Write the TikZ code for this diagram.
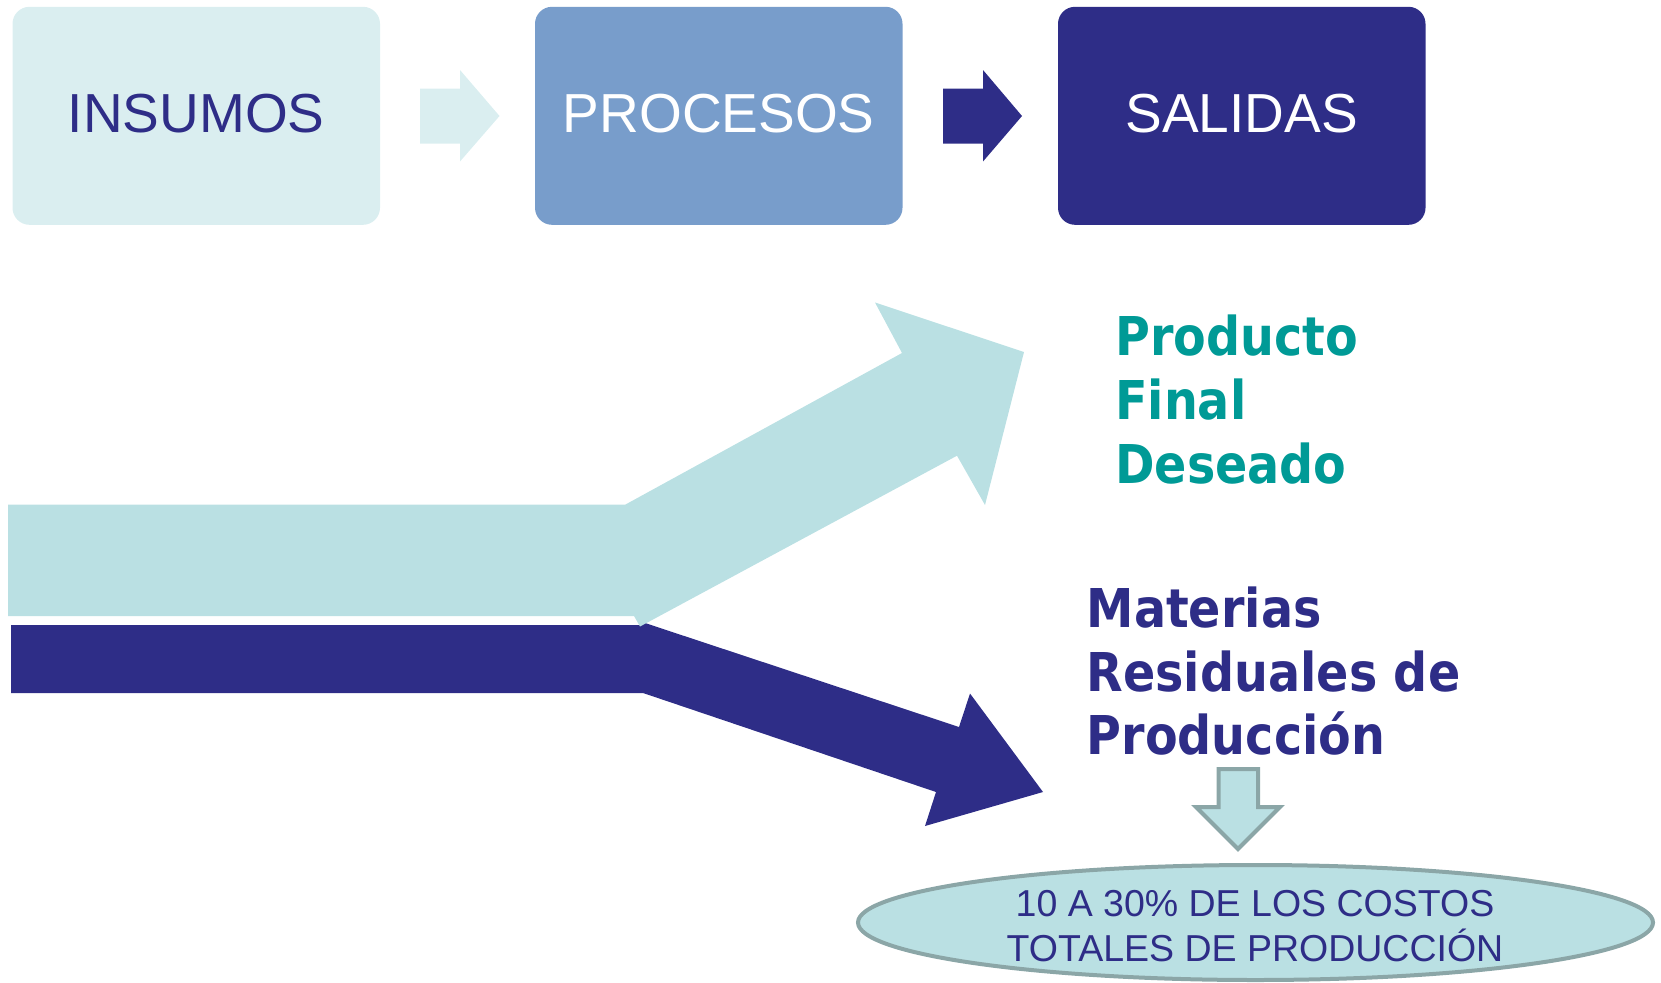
\documentclass[tikz,border=0pt]{standalone}
\usepackage{fontspec}
\setmainfont{Liberation Sans}
\newfontfamily\tahomab{DejaVu Sans Bold}[FakeStretch=0.89]
\usetikzlibrary{shapes.geometric}
\definecolor{lightbox}{HTML}{DAEEF0}
\definecolor{procblue}{HTML}{789DCB}
\definecolor{navy}{HTML}{2E2D87}
\definecolor{lightarrow}{HTML}{BAE0E3}
\definecolor{tealtxt}{HTML}{009A96}
\definecolor{grayb}{HTML}{8BA6A7}
\begin{document}
\begin{tikzpicture}[x=1pt,y=-1pt,
  box/.style={rounded corners=17pt, minimum width=367.5pt, minimum height=218pt,
    inner sep=0pt, font=\fontsize{55}{60}\selectfont, text depth=5pt},
  bigtxt/.style={anchor=base west, inner sep=0pt, font=\tahomab\fontsize{53.5}{64}\selectfont},
  costtxt/.style={anchor=base, inner sep=0pt, text=navy, font=\fontsize{37.5}{43}\selectfont},
  outline/.style={draw=grayb, line width=4pt, fill=lightarrow}]
\useasboundingbox (0,0) rectangle (1661,982);

% top boxes
\node[box, fill=lightbox, text=navy] (ins) at (196.25,115.8) {INSUMOS};
\node[box, fill=procblue, text=white] (pro) at (718.75,115.8) {PROCESOS};
\node[box, fill=navy, text=white] (sal) at (1241.75,115.8) {SALIDAS};

% small block arrows
\fill[lightbox] (420,88.5) -- (460,88.5) -- (460,70) -- (499.5,116) -- (460,161.5) -- (460,143.5) -- (420,143.5) -- cycle;
\fill[navy] (943,88.5) -- (983,88.5) -- (983,70) -- (1022,116) -- (983,161.5) -- (983,143.5) -- (943,143.5) -- cycle;

% big split arrows
\fill[navy] (11,625) -- (640,625) -- (642,622) -- (959,727) -- (970,693.5) -- (1043,792) -- (925,826) -- (936,792) -- (643,693) -- (11,693) -- cycle;
\fill[lightarrow] (8,504.5) -- (625.5,504.5) -- (902,353) -- (875,302.5) -- (1024,352) -- (985,505) -- (957,455.7) -- (640,626.5) -- (634,616) -- (8,616) -- cycle;

% output labels
\node[bigtxt, text=tealtxt] (pf1) at (1115,355.7) {Producto};
\node[bigtxt, text=tealtxt] (pf2) at (1115,419.3) {Final};
\node[bigtxt, text=tealtxt] (pf3) at (1115,483.3) {Deseado};
\node[bigtxt, text=navy] (mr1) at (1086.5,627.3) {Materias};
\node[bigtxt, text=navy] (mr2) at (1086.5,691) {Residuales de};
\node[bigtxt, text=navy] (mr3) at (1086.5,754.3) {Producción};

% down arrow
\draw[outline, line join=miter] (1218.5,769) -- (1258,769) -- (1258,807) -- (1280,807) -- (1238,849) -- (1196,807) -- (1218.5,807) -- cycle;

% cost ellipse
\node[ellipse, outline, minimum width=795pt, minimum height=115pt, inner sep=0pt] (cost) at (1255.5,922.5) {};
\node[costtxt] (c1) at (1255,916.7) {10 A 30\% DE LOS COSTOS};
\node[costtxt] (c2) at (1255,961) {TOTALES DE PRODUCCIÓN};
\end{tikzpicture}
\end{document}
